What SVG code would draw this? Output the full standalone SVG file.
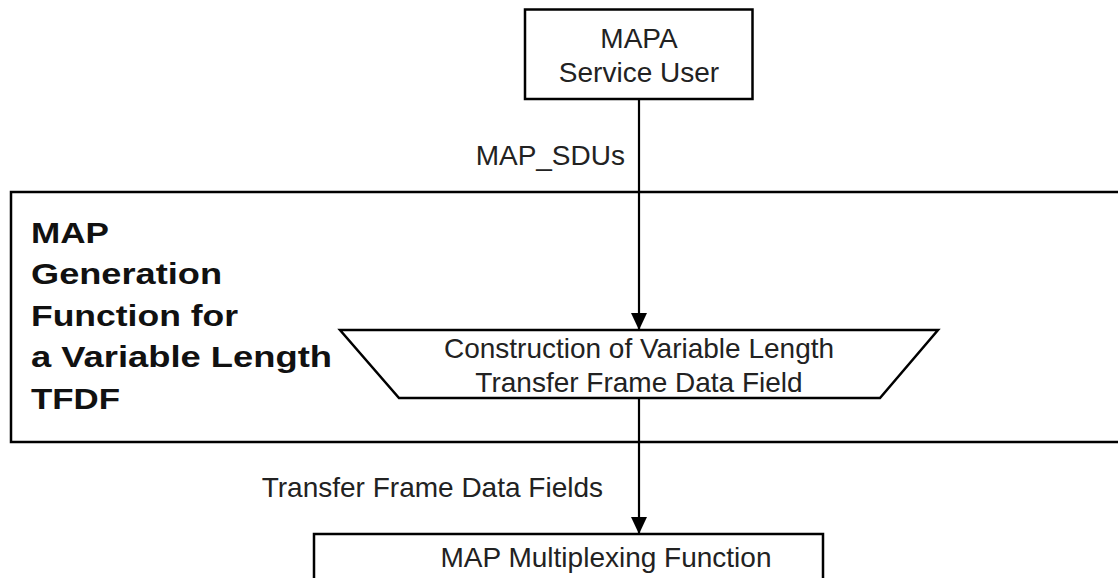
<svg xmlns="http://www.w3.org/2000/svg" width="1118" height="578" viewBox="0 0 1118 578">
<style>
.box{fill:#fff;stroke:#000;stroke-width:2.5}
.open{fill:none;stroke:#000;stroke-width:2.5}
.t{font-family:"Liberation Sans",Arial,sans-serif;font-size:28px;fill:#222}
.b{font-family:"Liberation Sans",Arial,sans-serif;font-size:30px;font-weight:bold;fill:#111}
.c{fill:none;stroke:#000;stroke-width:2.2}
</style>
<defs>
<marker id="ah" markerWidth="17" markerHeight="16" refX="17" refY="8" orient="auto" markerUnits="userSpaceOnUse" viewBox="0 0 17 16">
<path d="M0,0 L17,8 L0,16 Z" fill="#000"/>
</marker>
</defs>
<rect width="1118" height="578" fill="#fff"/>
<g id="mapgen">
<path class="open" d="M1120,192 H11 V442 H1120"/>
<text class="b" x="31" y="243" textLength="78" lengthAdjust="spacingAndGlyphs">MAP</text>
<text class="b" x="31" y="284" textLength="191" lengthAdjust="spacingAndGlyphs">Generation</text>
<text class="b" x="31" y="326" textLength="207" lengthAdjust="spacingAndGlyphs">Function for</text>
<text class="b" x="31" y="367" textLength="301" lengthAdjust="spacingAndGlyphs">a Variable Length</text>
<text class="b" x="31" y="409" textLength="89" lengthAdjust="spacingAndGlyphs">TFDF</text>
</g>
<g id="user">
<rect class="box" x="525" y="9.5" width="227.5" height="89.5"/>
<text class="t" x="639" y="48" text-anchor="middle">MAPA</text>
<text class="t" x="639" y="82" text-anchor="middle">Service User</text>
</g>
<g id="construct">
<polygon class="box" points="340,330 938,330 880,398 399,398"/>
<text class="t" x="639" y="358" text-anchor="middle">Construction of Variable Length</text>
<text class="t" x="639" y="392" text-anchor="middle">Transfer Frame Data Field</text>
</g>
<g id="mux">
<path class="open" d="M314,580 V534 H823 V580"/>
<text class="t" x="606" y="567" text-anchor="middle">MAP Multiplexing Function</text>
</g>
<g id="connectors">
<path class="c" d="M639,99 V330" marker-end="url(#ah)"/>
<path class="c" d="M639,398 V534" marker-end="url(#ah)"/>
<text class="t" x="625" y="165" text-anchor="end">MAP_SDUs</text>
<text class="t" x="603" y="497" text-anchor="end">Transfer Frame Data Fields</text>
</g>
</svg>
